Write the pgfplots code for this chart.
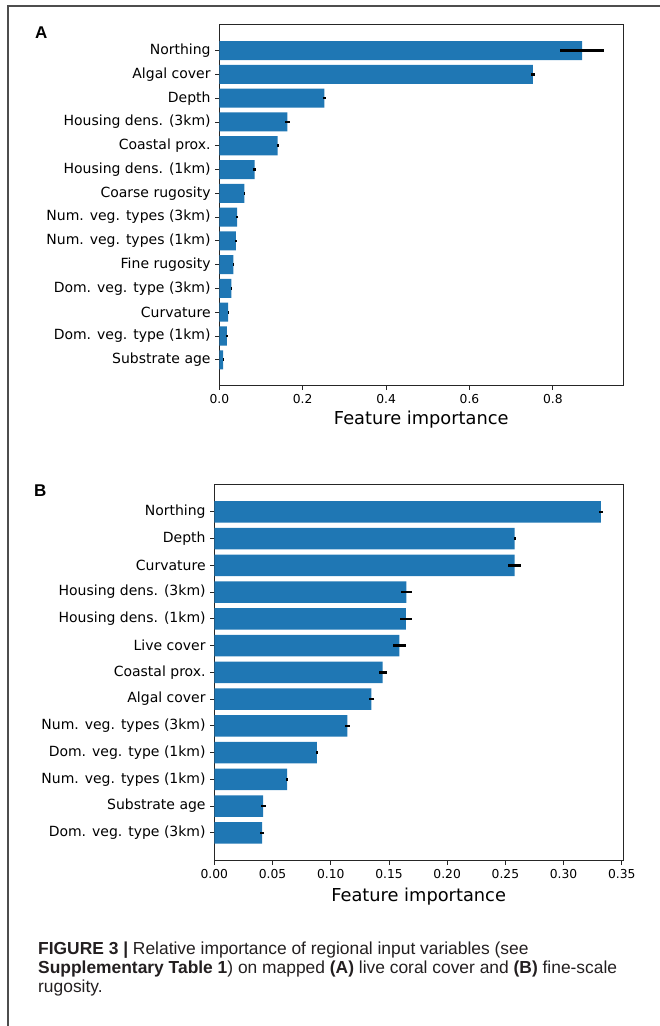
\documentclass[border=0pt]{standalone}
\usepackage{fontspec}
\setmainfont{DejaVu Sans}
\newfontfamily\capfont{Liberation Sans}
\usepackage{pgfplots}
\usepackage{pgfplotstable}
\pgfplotsset{compat=1.18}

\definecolor{barblue}{HTML}{1F77B4}
\definecolor{spine}{HTML}{262626}
\definecolor{captext}{HTML}{231F20}
\definecolor{framegray}{HTML}{4D4D4D}

% Panel A: live coral cover (importance, std. error)
\pgfplotstableread{
y imp err
0 0.870 0.053
1 0.752 0.005
2 0.252 0.003
3 0.163 0.006
4 0.140 0.002
5 0.085 0.004
6 0.060 0.001
7 0.043 0.003
8 0.040 0.002
9 0.034 0.002
10 0.029 0.002
11 0.021 0.001
12 0.018 0.001
13 0.009 0.0005
}\tableA

% Panel B: fine-scale rugosity
\pgfplotstableread{
y imp err
0 0.332 0.002
1 0.258 0.001
2 0.258 0.0054
3 0.165 0.0045
4 0.1645 0.005
5 0.159 0.0058
6 0.1446 0.0033
7 0.135 0.0025
8 0.1142 0.002
9 0.088 0.001
10 0.0625 0.0007
11 0.042 0.002
12 0.041 0.0015
}\tableB

\pgfplotsset{
  fi/.style={
    scale only axis,
    xbar,
    bar width=0.8,
    bar shift=0pt,
    y dir=reverse,
    xmin=0,
    axis line style={spine, line width=0.9pt},
    tick style={spine, line width=0.9pt},
    major tick length=4pt,
    tick align=outside,
    xtick pos=bottom,
    ytick pos=left,
    /pgf/number format/assume math mode=true,
    yticklabel style={font=\fontsize{14}{16}\selectfont, text=black, inner sep=0pt, anchor=east, xshift=-4.5pt},
    xticklabel style={font=\fontsize{12.3}{14}\selectfont, text=black, inner sep=0pt, anchor=north, yshift=-4.5pt},
    xlabel={Feature importance},
    xlabel style={font=\fontsize{17.8}{20}\selectfont, text=black, at={(axis description cs:0.5,0)}, anchor=center},
  },
  barplot/.style={
    fill=barblue, draw=none,
    error bars/.cd, x dir=both, x explicit,
    error mark=none,
    error bar style={draw=black, line width=2.6pt},
  },
}

\begin{document}
\begin{tikzpicture}[x=1pt,y=1pt]
\useasboundingbox (0pt,0pt) rectangle (660pt,1026pt);
\draw[framegray, line width=1.2pt] (8pt,0pt) -- (8pt,1020pt) -- (660pt,1020pt);

% Panel A
\node[font=\capfont\bfseries\fontsize{17}{19}\selectfont, anchor=base west, inner sep=0pt] at (35pt,987pt) {A};
\begin{axis}[fi,
  at={(219.3pt,640.3pt)}, anchor=south west,
  width=404pt, height=361pt,
  xmax=0.969, ymin=-1.09, ymax=14.09,
  xtick={0,0.2,0.4,0.6,0.8},
  xticklabels={0.0,0.2,0.4,0.6,0.8},
  ytick={0,...,13},
  yticklabels={Northing, Algal cover, Depth, Housing dens. (3km), Coastal prox., Housing dens. (1km), Coarse rugosity, Num. veg. types (3km), Num. veg. types (1km), Fine rugosity, Dom. veg. type (3km), Curvature, Dom. veg. type (1km), Substrate age},
  xlabel style={yshift=-34pt},
]
\addplot[barplot] table[x=imp, y=y, x error=err] {\tableA};
\end{axis}

% Panel B
\node[font=\capfont\bfseries\fontsize{17}{19}\selectfont, anchor=base west, inner sep=0pt] at (34pt,529pt) {B};
\begin{axis}[fi,
  at={(214.3pt,165.3pt)}, anchor=south west,
  width=408.7pt, height=376.7pt,
  xmax=0.351, ymin=-1.04, ymax=13.04,
  xtick={0,0.05,0.10,0.15,0.20,0.25,0.30,0.35},
  xticklabels={0.00,0.05,0.10,0.15,0.20,0.25,0.30,0.35},
  ytick={0,...,12},
  yticklabels={Northing, Depth, Curvature, Housing dens. (3km), Housing dens. (1km), Live cover, Coastal prox., Algal cover, Num. veg. types (3km), Dom. veg. type (1km), Num. veg. types (1km), Substrate age, Dom. veg. type (3km)},
  xlabel style={yshift=-36pt},
]
\addplot[barplot] table[x=imp, y=y, x error=err] {\tableB};
\end{axis}

% Caption
\begin{scope}[every node/.style={anchor=base west, inner sep=0pt, text=captext, font=\capfont\fontsize{17.4}{19}\selectfont}]
\node at (38pt,71pt) {\textbf{FIGURE 3 |} Relative importance of regional input variables (see};
\node at (38pt,52pt) {\textbf{Supplementary Table 1}) on mapped \textbf{(A)} live coral cover and \textbf{(B)} fine-scale};
\node at (38pt,34pt) {rugosity.};
\end{scope}
\end{tikzpicture}
\end{document}
